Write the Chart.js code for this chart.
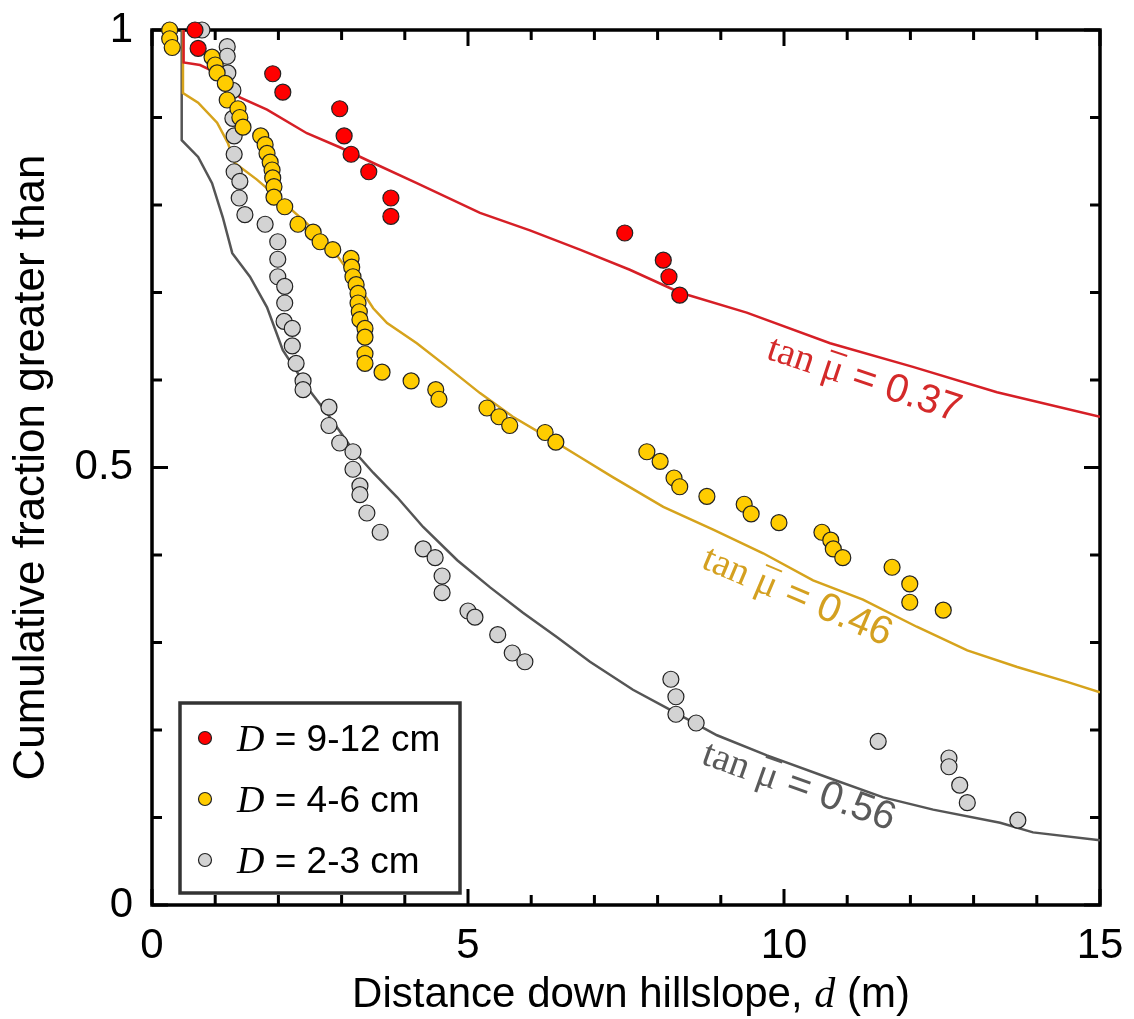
<!DOCTYPE html>
<html>
<head>
<meta charset="utf-8">
<script src="https://cdn.jsdelivr.net/npm/chart.js@4.4.1/dist/chart.umd.min.js"></script>
<style>
    html, body { margin: 0; padding: 0; background: #fff; }
    #wrap { width: 1134px; height: 1019px; }
</style>
</head>
<body>
<div id="wrap"><canvas id="chart1" width="1134" height="1019"></canvas></div>
<script>
// DATA: distance down hillslope d (m) and cumulative fraction greater than
var redD = [0.68, 0.73, 1.91, 2.07, 2.97, 3.04, 3.15, 3.43, 3.78, 3.78, 7.48, 8.09, 8.18, 8.35];
var redF = [1.0, 0.979, 0.95, 0.929, 0.91, 0.879, 0.858, 0.838, 0.808, 0.787, 0.768, 0.737, 0.718, 0.697];

var yellowD = [0.28, 0.28, 0.32, 0.95, 1.0, 1.03, 1.16, 1.19, 1.36, 1.39, 1.44,
    1.72, 1.79, 1.82, 1.87, 1.90, 1.91, 1.93, 1.93, 2.1, 2.31, 2.55, 2.66, 2.86,
    3.15, 3.16, 3.18, 3.23, 3.26, 3.26, 3.28, 3.29, 3.37, 3.37, 3.37, 3.37,
    3.64, 4.1, 4.49, 4.54, 5.3, 5.49, 5.66, 6.22, 6.39, 7.83, 8.04, 8.26, 8.35,
    8.78, 9.37, 9.48, 9.92, 10.6, 10.74, 10.78, 10.93, 11.71, 11.99, 11.99, 12.52];
var yellowF = [1.0, 0.99, 0.98, 0.969, 0.96, 0.951, 0.939, 0.92, 0.91, 0.90, 0.889,
    0.879, 0.869, 0.859, 0.849, 0.84, 0.831, 0.821, 0.809, 0.798, 0.778, 0.769, 0.758, 0.749,
    0.739, 0.729, 0.718, 0.709, 0.699, 0.688, 0.678, 0.669, 0.659, 0.649, 0.63, 0.619,
    0.609, 0.599, 0.589, 0.578, 0.568, 0.558, 0.548, 0.54, 0.529, 0.518, 0.507, 0.488, 0.478,
    0.467, 0.458, 0.447, 0.437, 0.426, 0.417, 0.407, 0.397, 0.386, 0.367, 0.346, 0.337];

var greyD = [0.79, 1.19, 1.19, 1.2, 1.28, 1.28, 1.3, 1.3, 1.3, 1.39, 1.38, 1.47, 1.79,
    1.99, 1.99, 1.99, 2.1, 2.1, 2.09, 2.22, 2.22, 2.28, 2.39, 2.39, 2.8, 2.8, 2.97,
    3.18, 3.18, 3.29, 3.29, 3.4, 3.61, 4.29, 4.48, 4.59, 4.59, 5.0, 5.11, 5.47, 5.7, 5.9,
    8.21, 8.29, 8.29, 8.61, 11.49, 12.61, 12.61, 12.78, 12.9, 13.7];
var greyF = [1.0, 0.981, 0.97, 0.951, 0.931, 0.899, 0.879, 0.858, 0.838, 0.827, 0.808, 0.789, 0.778,
    0.758, 0.738, 0.718, 0.707, 0.688, 0.667, 0.659, 0.639, 0.619, 0.599, 0.589, 0.569, 0.548, 0.528,
    0.518, 0.498, 0.479, 0.469, 0.448, 0.426, 0.407, 0.397, 0.376, 0.357, 0.336, 0.329, 0.309, 0.288, 0.278,
    0.258, 0.238, 0.218, 0.208, 0.187, 0.168, 0.158, 0.137, 0.117, 0.097];

// model curves
var redLineD = [0.5, 0.5, 0.76, 1.08, 1.39, 1.82, 2.45, 2.97, 3.5, 4.19, 5.19, 5.98, 6.77, 7.56, 8.35, 9.41, 10.73, 12.04, 13.37, 15];
var redLineF = [1.0, 0.963, 0.96, 0.949, 0.923, 0.909, 0.882, 0.866, 0.848, 0.825, 0.791, 0.771, 0.749, 0.726, 0.70, 0.677, 0.642, 0.615, 0.586, 0.558];

var yellowLineD = [0.49, 0.49, 0.73, 1.03, 1.2, 1.31, 1.66, 2.03, 2.45, 2.86, 3.24, 3.5, 3.72, 4.19, 4.67,
    5.19, 5.71, 6.25, 6.77, 7.29, 8.09, 8.88, 9.67, 10.46, 11.25, 12.1, 12.9, 13.69, 14.48, 15];
var yellowLineF = [1.0, 0.928, 0.917, 0.894, 0.871, 0.848, 0.829, 0.806, 0.779, 0.749, 0.711, 0.682, 0.665, 0.642, 0.615,
    0.585, 0.558, 0.535, 0.512, 0.489, 0.455, 0.429, 0.402, 0.371, 0.349, 0.318, 0.291, 0.272, 0.255, 0.243];

var greyLineD = [0.47, 0.47, 0.73, 0.95, 1.12, 1.27, 1.55, 1.82, 2.07, 2.45, 2.77, 3.18, 3.5, 3.88, 4.29,
    4.83, 5.35, 5.87, 6.41, 6.93, 7.61, 8.15, 8.94, 9.73, 10.68, 11.57, 12.36, 13.42, 13.94, 15];
var greyLineF = [1.0, 0.874, 0.855, 0.825, 0.786, 0.745, 0.718, 0.683, 0.634, 0.592, 0.562, 0.52, 0.494, 0.466, 0.432,
    0.394, 0.363, 0.334, 0.306, 0.278, 0.246, 0.225, 0.194, 0.171, 0.146, 0.123, 0.109, 0.094, 0.083, 0.074];

var legendLabels = ["9-12 cm", "4-6 cm", "2-3 cm"];
var tanValues = ["0.37", "0.46", "0.56"];
var tanAnchorD = [9.70, 8.67, 8.67];
var tanAnchorF = [0.625, 0.386, 0.162];

var SANS = '"Liberation Sans", Arial, sans-serif';
var SERIF = '"Liberation Serif", "Times New Roman", serif';
var RED = '#ff0000', YELLOW = '#ffcc00', GREY = '#d3d3d3';
var RED_LINE = '#d61f26', YELLOW_LINE = '#d6a31c', GREY_LINE = '#555555';

function toPoints(xs, ys) {
    return xs.map(function (x, i) { return { x: x, y: ys[i] }; });
}

// draws text pieces one after another, returns width
function drawRuns(ctx, runs, x, y, measureOnly) {
    var cx = x;
    runs.forEach(function (r) {
        ctx.font = r.font;
        var w = ctx.measureText(r.text).width;
        if (!measureOnly) {
            ctx.fillText(r.text, cx, y);
            if (r.bar) {
                var size = parseFloat(r.font.match(/(\d+)px/)[1]);
                ctx.save();
                ctx.strokeStyle = ctx.fillStyle;
                ctx.lineWidth = size * 0.05;
                ctx.beginPath();
                ctx.moveTo(cx + w * 0.12, y - size * 0.72);
                ctx.lineTo(cx + w * 0.95, y - size * 0.72);
                ctx.stroke();
                ctx.restore();
            }
        }
        cx += w;
    });
    return cx - x;
}

var framePlugin = {
    id: 'frame',
    beforeDatasetsDraw: function (chart) {
        var ctx = chart.ctx, a = chart.chartArea;
        var xs = chart.scales.x, ys = chart.scales.y;
        ctx.save();
        ctx.strokeStyle = '#000';
        ctx.lineWidth = 3;
        ctx.beginPath();
        for (var v = 0; v <= 15; v++) {
            var px = xs.getPixelForValue(v);
            var len = v % 5 === 0 ? 16 : 10;
            ctx.moveTo(px, a.bottom); ctx.lineTo(px, a.bottom - len);
            ctx.moveTo(px, a.top); ctx.lineTo(px, a.top + len);
        }
        for (var i = 0; i <= 10; i++) {
            var py = ys.getPixelForValue(i / 10);
            var len2 = i % 5 === 0 ? 16 : 10;
            ctx.moveTo(a.left, py); ctx.lineTo(a.left + len2, py);
            ctx.moveTo(a.right, py); ctx.lineTo(a.right - len2, py);
        }
        ctx.stroke();
        ctx.lineWidth = 3.5;
        ctx.strokeRect(a.left, a.top, a.right - a.left, a.bottom - a.top);
        ctx.restore();
    },
    afterDatasetsDraw: function (chart) {
        var ctx = chart.ctx, a = chart.chartArea;
        var xs = chart.scales.x, ys = chart.scales.y;
        ctx.save();

        // CURVE LABELS: tan mu-bar = ...
        var labelColors = ['#d42a2a', '#d4a020', '#5a5a5a'];
        var labelAngles = [18.5, 23, 19.5];
        for (var k = 0; k < tanValues.length; k++) {
            ctx.save();
            ctx.translate(xs.getPixelForValue(tanAnchorD[k]), ys.getPixelForValue(tanAnchorF[k]));
            ctx.rotate(labelAngles[k] * Math.PI / 180);
            ctx.fillStyle = labelColors[k];
            ctx.textBaseline = 'alphabetic';
            drawRuns(ctx, [
                { text: 'tan ', font: '39px ' + SERIF },
                { text: '\u03BC', font: '39px ' + SERIF, bar: true },
                { text: ' = ' + tanValues[k], font: '40px ' + SANS }
            ], 0, 0);
            ctx.restore();
        }

        // LEGEND BOX
        var bx = a.left + 28, by = a.bottom - 202, bw = 280, bh = 190;
        ctx.fillStyle = '#fff';
        ctx.fillRect(bx, by, bw, bh);
        ctx.strokeStyle = '#333';
        ctx.lineWidth = 3.5;
        ctx.strokeRect(bx, by, bw, bh);
        var fills = [RED, YELLOW, GREY];
        for (var j = 0; j < legendLabels.length; j++) {
            var cy = by + 35 + j * 61;
            ctx.beginPath();
            ctx.arc(bx + 25, cy, 6.5, 0, Math.PI * 2);
            ctx.fillStyle = fills[j];
            ctx.fill();
            ctx.lineWidth = 1.2;
            ctx.strokeStyle = '#222';
            ctx.stroke();
            ctx.fillStyle = '#000';
            ctx.textBaseline = 'alphabetic';
            drawRuns(ctx, [
                { text: 'D', font: 'italic 38px ' + SERIF },
                { text: ' = ' + legendLabels[j], font: '37px ' + SANS }
            ], bx + 57, cy + 13);
        }

        // X AXIS TITLE
        var runs = [
            { text: 'Distance down hillslope, ', font: '42px ' + SANS },
            { text: 'd', font: 'italic 42px ' + SERIF },
            { text: ' (m)', font: '42px ' + SANS }
        ];
        ctx.fillStyle = '#000';
        var tw = drawRuns(ctx, runs, 0, 0, true);
        drawRuns(ctx, runs, (a.left + a.right) / 2 + 5 - tw / 2, 1007);
        ctx.restore();
    }
};

var pointStyle = { pointRadius: 8, pointBorderWidth: 1.2, pointBorderColor: '#222', showLine: false, clip: false };

var ctxChart1 = document.getElementById('chart1').getContext('2d');
var chart1 = new Chart(ctxChart1, {
    type: 'scatter',
    plugins: [framePlugin],
    data: {
        datasets: [
            Object.assign({ label: 'D = 9-12 cm', data: toPoints(redD, redF), backgroundColor: RED, pointBackgroundColor: RED, order: 1 }, pointStyle),
            Object.assign({ label: 'D = 4-6 cm', data: toPoints(yellowD, yellowF), backgroundColor: YELLOW, pointBackgroundColor: YELLOW, order: 2 }, pointStyle),
            Object.assign({ label: 'D = 2-3 cm', data: toPoints(greyD, greyF), backgroundColor: GREY, pointBackgroundColor: GREY, order: 3 }, pointStyle),
            { label: 'tan 0.37', data: toPoints(redLineD, redLineF), showLine: true, pointRadius: 0, borderColor: RED_LINE, borderWidth: 2.5, order: 4 },
            { label: 'tan 0.46', data: toPoints(yellowLineD, yellowLineF), showLine: true, pointRadius: 0, borderColor: YELLOW_LINE, borderWidth: 2.5, order: 5 },
            { label: 'tan 0.56', data: toPoints(greyLineD, greyLineF), showLine: true, pointRadius: 0, borderColor: GREY_LINE, borderWidth: 2.5, order: 6 }
        ]
    },
    options: {
        responsive: false,
        animation: false,
        layout: { padding: { top: 30, right: 34, left: 0, bottom: 0 } },
        plugins: {
            legend: { display: false },
            title: { display: false },
            tooltip: { enabled: false }
        },
        scales: {
            x: {
                type: 'linear', min: 0, max: 15,
                grid: { display: false, drawTicks: false },
                border: { display: false },
                ticks: { stepSize: 5, padding: 16, color: '#000', font: { family: SANS, size: 42 } },
                afterFit: function (scale) {
                    scale.height = 114;
                    scale.paddingLeft = 0;
                    scale.paddingRight = 0;
                }
            },
            y: {
                type: 'linear', min: 0, max: 1,
                grid: { display: false, drawTicks: false },
                border: { display: false },
                ticks: {
                    stepSize: 0.5, padding: 19, color: '#000', font: { family: SANS, size: 42 },
                    callback: function (v) { return String(v); }
                },
                title: {
                    display: true, text: 'Cumulative fraction greater than', color: '#000',
                    font: { family: SANS, size: 44 }, padding: { top: 5, bottom: 0 }
                },
                afterFit: function (scale) {
                    scale.width = 152;
                    scale.paddingTop = 0;
                    scale.paddingBottom = 0;
                }
            }
        }
    }
});
</script>
</body>
</html>
